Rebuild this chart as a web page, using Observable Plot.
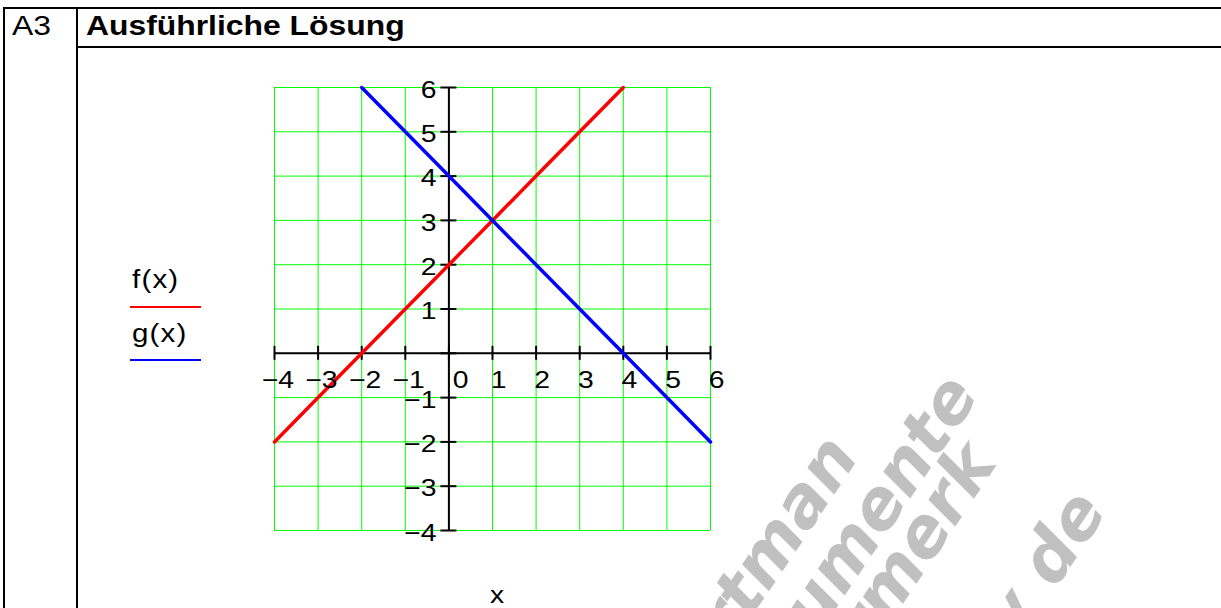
<!DOCTYPE html>
<html>
<head>
<meta charset="utf-8">
<script src="https://cdn.jsdelivr.net/npm/d3@7"></script>
<script src="https://cdn.jsdelivr.net/npm/@observablehq/plot@0.6"></script>
<style>
  html, body { margin: 0; padding: 0; background: #fff; }
  body { width: 1221px; height: 608px; overflow: hidden; position: relative;
         font-family: "Liberation Sans", Arial, sans-serif; }
  .line { position: absolute; background: #000; }
  .cell { position: absolute; color: #000; white-space: nowrap; line-height: 1;
          transform: scaleX(1.18); transform-origin: 0 0; }
  #chart { position: absolute; left: 0; top: 0; }
  .legend-swatch { position: absolute; height: 2px; }
  #mark { position: absolute; left: 0; top: 0; pointer-events: none; }
</style>
</head>
<body>
<div id="chart"></div>

<!-- table frame -->
<div class="line" style="left:3px; top:7px; width:1218px; height:2px;"></div>
<div class="line" style="left:76px; top:46px; width:1145px; height:2px;"></div>
<div class="line" style="left:3px; top:7px; width:2px; height:601px;"></div>
<div class="line" style="left:76px; top:7px; width:2px; height:601px;"></div>
<div class="cell" style="left:12px; top:13px; font-size:27px;">A3</div>
<div class="cell" style="left:86px; top:13px; font-size:27px; font-weight:bold;">Ausführliche Lösung</div>

<div id="legend"></div>
<div class="cell" style="left:490px; top:583px; font-size:24px;">x</div>

<svg id="mark" width="1221" height="608"></svg>

<script>
// function graphs
const fX = [-4, -3, -2, -1, 0, 1, 2, 3, 4];
const fY = [-2, -1, 0, 1, 2, 3, 4, 5, 6];
const gX = [-2, -1, 0, 1, 2, 3, 4, 5, 6];
const gY = [6, 5, 4, 3, 2, 1, 0, -1, -2];

// axes, grid and tick labels
const gridTicks = [-4, -3, -2, -1, 0, 1, 2, 3, 4, 5, 6];
const xTicksPos = [1, 2, 3, 4, 5, 6];
const xTicksNeg = [-4, -3, -2, -1, 0];
const yTicks = [-4, -3, -2, -1, 1, 2, 3, 4, 5, 6];
const yTickMarks = [-4, -3, -2, -1, 0, 1, 2, 3, 4, 5, 6];

const seriesNames = ["f(x)", "g(x)"];
const seriesColors = ["#ff0000", "#0000ff"];

const fmt = d => (d < 0 ? "\u2212" + Math.abs(d) : String(d));

const fData = fX.map((x, i) => ({x, y: fY[i]}));
const gData = gX.map((x, i) => ({x, y: gY[i]}));

const plot = Plot.plot({
  width: 1221,
  height: 608,
  marginLeft: 274,
  marginRight: 511,
  marginTop: 87,
  marginBottom: 78,
  style: {background: "transparent", overflow: "visible", fontFamily: "'Liberation Sans', Arial, sans-serif"},
  x: {domain: [-4, 6], axis: null},
  y: {domain: [-4, 6], axis: null},
  marks: [
    Plot.ruleX(gridTicks, {stroke: "#00ff00", strokeWidth: 1}),
    Plot.ruleY(gridTicks, {stroke: "#00ff00", strokeWidth: 1}),
    Plot.ruleY([0], {x1: -4, x2: 6, stroke: "#000", strokeWidth: 2}),
    Plot.ruleX([0], {y1: -4, y2: 6, stroke: "#000", strokeWidth: 2}),
    Plot.ruleX(gridTicks, {x: d => d, y1: 0, y2: 0, insetTop: -7, insetBottom: -7, stroke: "#000", strokeWidth: 2}),
    Plot.ruleY(yTickMarks, {y: d => d, x1: 0, x2: 0, insetLeft: -8, insetRight: -8, stroke: "#000", strokeWidth: 2}),
    Plot.line(fData, {x: "x", y: "y", stroke: seriesColors[0], strokeWidth: 3.5}),
    Plot.line(gData, {x: "x", y: "y", stroke: seriesColors[1], strokeWidth: 3.5}),
    Plot.text(xTicksPos, {x: d => d, y: 0, text: fmt, textAnchor: "end", dx: 14, dy: 27, fontSize: 24, fill: "#000"}),
    Plot.text(xTicksNeg, {x: d => d, y: 0, text: fmt, textAnchor: "end", dx: 19.5, dy: 27, fontSize: 24, fill: "#000"}),
    Plot.text(yTicks, {x: 0, y: d => d, text: fmt, textAnchor: "end", dx: -12.5, dy: 2.5, fontSize: 24, fill: "#000"})
  ]
});
// the worksheet's lettering runs wide: stretch tick labels about their anchors
d3.select(plot).selectAll("text")
  .attr("transform", function () { return this.getAttribute("transform") + " scale(1.18,1)"; });
document.getElementById("chart").append(plot);

// legend on the left of the graph
const legend = document.getElementById("legend");
seriesNames.forEach((name, i) => {
  const top = 267 + i * 54;
  const label = document.createElement("div");
  label.className = "cell";
  label.style.left = "132px";
  label.style.top = top + "px";
  label.style.fontSize = "25px";
  label.style.letterSpacing = "1px";
  label.textContent = name;
  legend.append(label);
  const sw = document.createElement("div");
  sw.className = "legend-swatch";
  sw.style.left = "130px";
  sw.style.top = (306 + i * 53) + "px";
  sw.style.width = "71px";
  sw.style.background = seriesColors[i];
  legend.append(sw);
});

// diagonal watermark lettering
const markWords = ["Hartman", "Dokumente", "Vermerk", "archiv de"];
const markEnds = [[860, 456], [980, 395], [998, 463], [1108, 511]];
const svg = d3.select("#mark");
svg.selectAll("text")
  .data(markWords)
  .join("text")
  .attr("transform", (d, i) => `translate(${markEnds[i][0]},${markEnds[i][1]}) rotate(-56)`)
  .attr("text-anchor", "end")
  .attr("font-family", "'DejaVu Sans', sans-serif")
  .attr("font-weight", "bold")
  .attr("font-style", "italic")
  .attr("font-size", 68)
  .attr("fill", "#c0c0c0")
  .text(d => d);
</script>
</body>
</html>
